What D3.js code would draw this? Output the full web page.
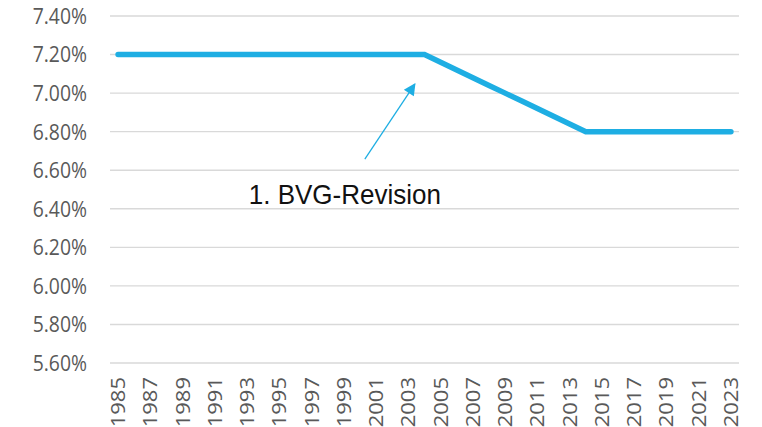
<!DOCTYPE html>
<html>
<head>
<meta charset="utf-8">
<script src="https://cdn.jsdelivr.net/npm/d3@7"></script>
<style>
  body { margin: 0; background: #fff; }
  svg { display: block; }
</style>
</head>
<body>
<div id="chart_parent"></div>
<script>
// years on the category axis, one point per year
const years = [
    1985, 1986, 1987, 1988, 1989, 1990, 1991, 1992, 1993, 1994,
    1995, 1996, 1997, 1998, 1999, 2000, 2001, 2002, 2003, 2004,
    2005, 2006, 2007, 2008, 2009, 2010, 2011, 2012, 2013, 2014,
    2015, 2016, 2017, 2018, 2019, 2020, 2021, 2022, 2023,
];
// conversion rate in percent
const rates = [
    7.20, 7.20, 7.20, 7.20, 7.20, 7.20, 7.20, 7.20, 7.20, 7.20,
    7.20, 7.20, 7.20, 7.20, 7.20, 7.20, 7.20, 7.20, 7.20, 7.20,
    7.16, 7.12, 7.08, 7.04, 7.00, 6.96, 6.92, 6.88, 6.84, 6.80,
    6.80, 6.80, 6.80, 6.80, 6.80, 6.80, 6.80, 6.80, 6.80,
];
const yTicks = [5.6, 5.8, 6.0, 6.2, 6.4, 6.6, 6.8, 7.0, 7.2, 7.4];
const xTickYears = years.filter((y, i) => i % 2 === 0);

const annotation = {
    label: '1. BVG-Revision',
    textAt: [1993.1, 6.425],
    arrowFrom: [2000.3, 6.658],
    arrowTo: [2003.4, 7.047],
};

const chartConfig = {
    outerWidth: 762,
    outerHeight: 427,
    plotLeft: 110,
    plotRight: 739,
    plotTop: 16,
    plotBottom: 363,
    lineColour: '#1eaee3',
    gridColour: '#d9d9d9',
    labelColour: '#595959',
    squeeze: 0.88, // the reference is a little narrower than its fonts
};

const cfg = chartConfig;

const svg = d3.select('#chart_parent').append('svg')
    .attr('width', cfg.outerWidth)
    .attr('height', cfg.outerHeight);

const xScale = d3.scaleBand()
    .domain(years)
    .range([cfg.plotLeft, cfg.plotRight])
    .padding(0);
const xPos = yr => xScale(yr) + xScale.bandwidth() / 2;
// fractional years for the annotation
const xLin = d3.scaleLinear()
    .domain([years[0], years[years.length - 1]])
    .range([xPos(years[0]), xPos(years[years.length - 1])]);

const yScale = d3.scaleLinear()
    .domain([5.6, 7.4])
    .range([cfg.plotBottom, cfg.plotTop]);

// grid
svg.append('g')
    .selectAll('line')
    .data(yTicks)
    .join('line')
    .attr('x1', cfg.plotLeft)
    .attr('x2', cfg.plotRight)
    .attr('y1', d => yScale(d))
    .attr('y2', d => yScale(d))
    .attr('stroke', cfg.gridColour)
    .attr('stroke-width', 1.4);

// y labels
svg.append('g')
    .selectAll('text')
    .data(yTicks)
    .join('text')
    .attr('transform', d => `translate(87,${yScale(d)}) scale(${cfg.squeeze},1)`)
    .attr('text-anchor', 'end')
    .attr('dy', '0.36em')
    .attr('font-family', '"Open Sans", sans-serif')
    .attr('font-size', 22)
    .attr('fill', cfg.labelColour)
    .text(d => d.toFixed(2) + '%');

// x labels, rotated
svg.append('g')
    .selectAll('text')
    .data(xTickYears)
    .join('text')
    .attr('transform', d => `translate(${xPos(d)},377) scale(${cfg.squeeze},1) rotate(-90)`)
    .attr('text-anchor', 'end')
    .attr('dy', '0.36em')
    .attr('font-family', '"Open Sans", sans-serif')
    .attr('font-size', 22)
    .attr('fill', cfg.labelColour)
    .text(d => d);

// series
const line = d3.line()
    .x((d, i) => xPos(years[i]))
    .y(d => yScale(d));

svg.append('path')
    .datum(rates)
    .attr('d', line)
    .attr('fill', 'none')
    .attr('stroke', cfg.lineColour)
    .attr('stroke-width', 5.5)
    .attr('stroke-linecap', 'round')
    .attr('stroke-linejoin', 'miter');

// annotation arrow
svg.append('defs').append('marker')
    .attr('id', 'arrowhead')
    .attr('viewBox', '0 0 10 10')
    .attr('refX', 9)
    .attr('refY', 5)
    .attr('markerUnits', 'userSpaceOnUse')
    .attr('markerWidth', 15)
    .attr('markerHeight', 12)
    .attr('orient', 'auto')
    .append('path')
    .attr('d', 'M0,0 L10,5 L0,10 Z')
    .attr('fill', cfg.lineColour);

svg.append('line')
    .attr('x1', xLin(annotation.arrowFrom[0]))
    .attr('y1', yScale(annotation.arrowFrom[1]))
    .attr('x2', xLin(annotation.arrowTo[0]))
    .attr('y2', yScale(annotation.arrowTo[1]))
    .attr('stroke', cfg.lineColour)
    .attr('stroke-width', 1.3)
    .attr('marker-end', 'url(#arrowhead)');

svg.append('text')
    .attr('transform', `translate(${xLin(annotation.textAt[0])},${yScale(annotation.textAt[1])}) scale(0.93,1)`)
    .attr('font-family', '"Liberation Sans", Arial, sans-serif')
    .attr('font-size', 28)
    .attr('fill', '#111')
    .text(annotation.label);
</script>
</body>
</html>
